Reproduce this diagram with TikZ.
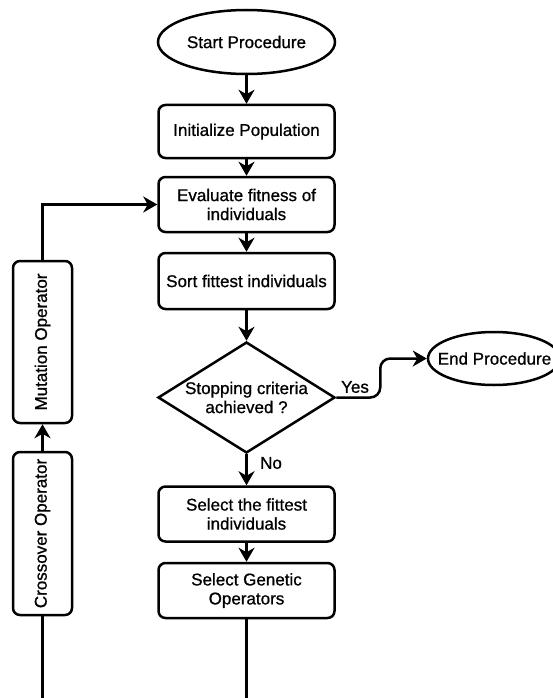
\documentclass[tikz,border=0pt]{standalone}
\usepackage{fontspec}
\setmainfont{Liberation Sans}
\newfontfamily\diagfont{Liberation Sans}[FakeBold=0.9]
\usetikzlibrary{shapes.geometric,arrows.meta}
\begin{document}
\begin{tikzpicture}[x=1pt,y=-1pt,
  every node/.style={font=\diagfont\fontsize{17}{19}\selectfont, align=center, inner sep=0pt},
  box/.style={draw, line width=2.5pt, rounded corners=7pt, minimum width=176pt, minimum height=54pt},
  vbox/.style={draw, line width=2.5pt, rounded corners=7pt, minimum width=162pt, minimum height=59pt, rotate=90},
  oval/.style={draw, ellipse, line width=2.5pt},
  decision/.style={draw, diamond, line width=2.5pt, minimum width=177pt, minimum height=111pt},
  link/.style={line width=2.5pt, -{Stealth[length=14pt,width=16pt,inset=4.5pt]}},
  plainline/.style={line width=2.5pt}
]
\useasboundingbox (0,0) rectangle (553,698);
\begin{scope}
\clip (0,0) rectangle (553,698);
\node[oval, minimum width=177pt, minimum height=64pt] (start) at (246.5,42) {Start Procedure};
\node[box, minimum height=53pt] (init) at (246.5,131.5) {Initialize Population};
\node[box, minimum height=55pt] (eval) at (246.5,204.5) {Evaluate fitness of\\individuals};
\node[box, minimum height=56pt] (sort) at (246.5,281) {Sort fittest individuals};
\node[decision] (d) at (246.5,397.5) {};
\node at (d) {Stopping criteria\\achieved ?};
\node[box, minimum height=55pt] (sel) at (246.5,514) {Select the fittest\\individuals};
\node[box, minimum height=55pt] (gen) at (246.5,590.5) {Select Genetic\\Operators};
\node[vbox] (mut) at (42.5,342) {Mutation Operator};
\node[vbox, minimum width=163pt] (cross) at (42.5,533.5) {Crossover Operator};
\node[oval, minimum width=132pt, minimum height=53pt] (end) at (494,358.5) {};
\node (endtxt) at (494.5,358.5) {End Procedure};
\coordinate (b1) at (246.5,702);
\coordinate (b2) at (42.5,702);

\draw[link] (start.south) -- (init.north);
\draw[link] (init.south) -- (eval.north);
\draw[link] (eval.south) -- (sort.north);
\draw[link] (sort.south) -- (d.north);
\draw[link] (d.south) -- (sel.north);
\draw[link] (sel.south) -- (gen.north);
\draw[plainline] (gen.south) -- (b1);
\draw[plainline] (cross.west) -- (b2);
\draw[link] (cross.east) -- (mut.west);
\draw[link] (mut.east) |- (eval.west);
\draw[link, rounded corners=10pt] (d.east) -- ++(44,0) |- (end.west);
\node (yes) at (355,387) {Yes};
\node (no) at (271,463) {No};
\end{scope}
\end{tikzpicture}
\end{document}
